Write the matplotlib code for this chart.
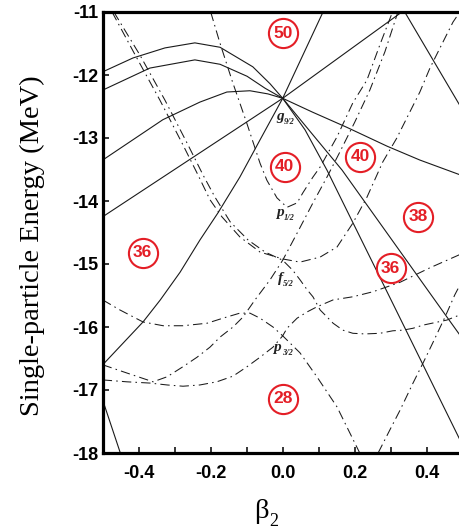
import matplotlib
matplotlib.use('Agg')
import matplotlib.pyplot as plt

plt.rcParams['font.family'] = ['Liberation Sans', 'DejaVu Sans']
plt.rcParams['font.weight'] = 'bold'
plt.rcParams['axes.unicode_minus'] = False

# ---- solid lines (g9/2 family and others), beta2 / energy (MeV) ----
g1_b = [-0.5, -0.416, -0.327, -0.244, -0.174, -0.083, -0.035, 0.0]
g1_e = [-11.95, -11.73, -11.57, -11.49, -11.56, -11.87, -12.14, -12.37]
g2_b = [-0.5, -0.369, -0.244, -0.174, -0.099, -0.049, 0.0]
g2_e = [-12.24, -11.89, -11.76, -11.83, -12.02, -12.21, -12.37]
g3_b = [-0.5, -0.333, -0.23, -0.155, -0.091, -0.041, 0.0]
g3_e = [-13.35, -12.71, -12.43, -12.27, -12.25, -12.30, -12.37]
g4_b = [-0.5, 0.0]
g4_e = [-14.25, -12.37]
g5_b = [0.0, -0.063, -0.119, -0.18, -0.23, -0.285, -0.34, -0.388, -0.5]
g5_e = [-12.37, -13.03, -13.62, -14.19, -14.62, -15.13, -15.57, -15.92, -16.6]
g6_b = [0.0, 0.112]
g6_e = [-12.37, -11.0]
g7_b = [0.0, 0.331]
g7_e = [-12.37, -11.0]
g8_b = [0.0, 0.083, 0.178, 0.29, 0.381, 0.5]
g8_e = [-12.37, -12.59, -12.83, -13.13, -13.35, -13.6]
g9_b = [0.0, 0.062, 0.123, 0.326, 0.5]
g9_e = [-12.37, -12.87, -13.51, -15.86, -17.88]
g10_b = [0.0, 0.165, 0.456, 0.5]
g10_e = [-12.37, -13.51, -15.84, -16.19]
d_b = [0.339, 0.5]
d_e = [-11.0, -12.56]
f7_b = [-0.5, -0.451]
f7_e = [-17.16, -18.0]

# ---- dash-dot lines (p1/2, f5/2, p3/2, f7/2) ----
p12_b = [-0.20, -0.175, -0.14, -0.10, -0.063, -0.044, -0.016, 0.012, 0.04, 0.056,
         0.084, 0.104, 0.151, 0.195, 0.234, 0.27, 0.305]
p12_e = [-11.0, -11.48, -12.1, -12.76, -13.40, -13.67, -13.95, -14.1, -14.03, -13.87,
         -13.62, -13.46, -12.98, -12.44, -12.08, -11.52, -11.0]
f5a_b = [-0.5, -0.433, -0.36, -0.321, -0.277, -0.238, -0.202, -0.174, -0.138, -0.11,
         -0.077, -0.035, 0.0, 0.04, 0.084, 0.123, 0.159, 0.2, 0.242, 0.284, 0.32]
f5a_e = [-16.6, -16.73, -16.87, -16.79, -16.63, -16.48, -16.32, -16.16, -16.0, -15.84,
         -15.57, -15.25, -14.94, -14.51, -14.03, -13.62, -13.22, -12.75, -12.24, -11.63, -11.0]
f5b_b = [-0.474, -0.41, -0.341, -0.277, -0.235, -0.202, -0.169, -0.119, -0.063, 0.0,
         0.048, 0.104, 0.151, 0.195, 0.234, 0.278, 0.317, 0.345, 0.381, 0.409, 0.437, 0.473, 0.492]
f5b_e = [-11.0, -11.68, -12.40, -13.11, -13.59, -13.98, -14.25, -14.57, -14.81, -14.92,
         -14.97, -14.89, -14.73, -14.35, -13.94, -13.38, -13.0, -12.68, -12.27, -11.89, -11.57, -11.16, -11.0]
f5c_b = [-0.469, -0.397, -0.327, -0.263, -0.221, -0.188, -0.146, -0.096, -0.049, 0.0,
         0.028, 0.048, 0.068, 0.084, 0.104, 0.123, 0.14, 0.167, 0.195, 0.229, 0.27,
         0.306, 0.334, 0.362, 0.39, 0.456, 0.5]
f5c_e = [-11.0, -11.68, -12.40, -13.11, -13.59, -13.94, -14.33, -14.62, -14.81, -14.94,
         -15.10, -15.25, -15.41, -15.52, -15.73, -15.84, -15.94, -16.05, -16.10, -16.11, -16.10,
         -16.06, -16.05, -16.02, -15.97, -15.89, -15.79]
p3a_b = [-0.5, -0.452, -0.388, -0.332, -0.277, -0.21, -0.166, -0.119, -0.091, -0.063,
         -0.027, 0.0, 0.048, 0.095, 0.151, 0.214]
p3a_e = [-15.57, -15.73, -15.92, -15.98, -15.98, -15.94, -15.86, -15.78, -15.78, -15.86,
         -16.0, -16.14, -16.41, -16.79, -17.27, -18.0]
p3b_b = [-0.5, -0.433, -0.369, -0.321, -0.277, -0.23, -0.183, -0.138, -0.099, -0.063,
         -0.027, 0.0, 0.012, 0.04, 0.068, 0.095, 0.14, 0.195, 0.251, 0.326, 0.409, 0.5]
p3b_e = [-16.84, -16.87, -16.89, -16.92, -16.94, -16.92, -16.87, -16.78, -16.63, -16.48,
         -16.32, -16.14, -16.02, -15.86, -15.76, -15.68, -15.57, -15.52, -15.44, -15.29, -15.06, -14.83]
f7r_b = [0.265, 0.298, 0.326, 0.362, 0.39, 0.417, 0.451, 0.478, 0.5]
f7r_e = [-18.0, -17.63, -17.32, -16.89, -16.57, -16.25, -15.84, -15.49, -15.25]

# ---- shell gaps (circled numbers) ----
gap_b = [0.0, 0.006, 0.215, 0.376, -0.389, 0.30, 0.0]
gap_e = [-11.34, -13.46, -13.30, -14.25, -14.82, -15.07, -17.14]
gap_n = ['50', '40', '40', '38', '36', '36', '28']

# ---- spherical orbit labels ----
orb_b = [0.002, 0.002, 0.0, -0.005]
orb_e = [-12.71, -14.24, -15.29, -16.38]
orb_l = ['g', 'p', 'f', 'p']
orb_s = ['9/2', '1/2', '5/2', '3/2']

solid = [(g1_b, g1_e), (g2_b, g2_e), (g3_b, g3_e), (g4_b, g4_e), (g5_b, g5_e),
         (g6_b, g6_e), (g7_b, g7_e), (g8_b, g8_e), (g9_b, g9_e), (g10_b, g10_e),
         (d_b, d_e), (f7_b, f7_e)]
dashed = [(p12_b, p12_e), (f5a_b, f5a_e), (f5b_b, f5b_e), (f5c_b, f5c_e),
          (p3a_b, p3a_e), (p3b_b, p3b_e), (f7r_b, f7r_e)]

fig = plt.figure(figsize=(4.6, 5.31), dpi=100)
ax = fig.add_axes([102.7 / 460, 78 / 531, 360 / 460, 441 / 531])

for bx, ey in solid:
    ax.plot(bx, ey, color='#1a1a1a', lw=0.8, solid_capstyle='butt')
for bx, ey in dashed:
    ax.plot(bx, ey, color='#1a1a1a', lw=0.75, linestyle=(0, (9, 4, 1.5, 4)))

red = '#e41e26'
ax.plot(gap_b, gap_e, 'o', ms=21, mfc='none', mec=red, mew=1.5, zorder=5)
for b, e, n in zip(gap_b, gap_e, gap_n):
    ax.text(b, e, n, color=red, ha='center', va='center', fontsize=12.5,
            weight='bold', zorder=6)

for b, e, l, s in zip(orb_b, orb_e, orb_l, orb_s):
    ax.text(b, e, l, ha='right', va='baseline', fontsize=11, style='italic',
            weight='bold', family='Liberation Serif', color='#222222')
    ax.annotate(s, xy=(b, e), xytext=(0.5, -3), textcoords='offset points',
                ha='left', va='baseline', fontsize=6, style='italic',
                weight='bold', family='Liberation Serif', color='#222222')

ax.set_xlim(-0.5, 0.5)
ax.set_ylim(-18, -11)
ax.set_xticks([-0.4, -0.2, 0.0, 0.2, 0.4])
ax.set_xticklabels(['-0.4', '-0.2', '0.0', '0.2', '0.4'])
ax.set_xticks([-0.3, -0.1, 0.1, 0.3], minor=True)
ax.set_yticks([-18, -17, -16, -15, -14, -13, -12, -11])
ax.tick_params(which='both', direction='in', length=4, width=1.1, labelsize=13,
               top=False, right=False)
ax.tick_params(axis='x', pad=9)
ax.tick_params(axis='y', pad=3)
for sp in ax.spines.values():
    sp.set_linewidth(2.3)

fig.text(32 / 460, 1 - 246 / 531, 'Single-particle Energy (MeV)', rotation=90,
         ha='center', va='center', fontsize=20.5, weight='normal',
         family='Liberation Serif')
fig.text(261 / 460, 1 - 511 / 531, 'β', ha='center', va='center', fontsize=20.5,
         weight='normal', family='Liberation Serif')
fig.text(274 / 460, 1 - 522 / 531, '2', ha='center', va='center', fontsize=13,
         weight='normal', family='Liberation Serif')

plt.savefig('out.png', dpi=100)
